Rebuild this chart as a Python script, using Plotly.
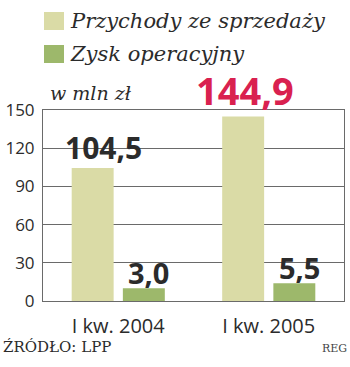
import plotly.graph_objects as go

categories = ["I kw. 2004", "I kw. 2005"]
series_names = ["Przychody ze sprzedaży", "Zysk operacyjny"]
revenue = [104.5, 144.9]
# operating profit bars as drawn in the picture (exaggerated for visibility)
profit_drawn = [10.0, 14.0]
revenue_labels = ["104,5", "144,9"]
profit_labels = ["3,0", "5,5"]
y_ticks = [0, 30, 60, 90, 120, 150]

LIGHT = "#dadba6"
DARK = "#9db86b"
RED = "#d9214f"
TXT = "#2b2b2b"
GRID = "#6a6a6a"
SERIF = "DejaVu Serif, Liberation Serif, serif"

fig = go.Figure()
fig.add_bar(x=categories, y=revenue, name=series_names[0], marker_color=LIGHT,
            marker_line_width=0, showlegend=False)
fig.add_bar(x=categories, y=profit_drawn, name=series_names[1], marker_color=DARK,
            marker_line_width=0, showlegend=False)

# value labels
label_style = [
    # (text, y, xshift, yshift, color, size)
    (revenue_labels[0], revenue[0], -30.5 + 15.5, -2, TXT, 30),
    (revenue_labels[1], revenue[1], -30.5 + 7, -2, RED, 38),
    (profit_labels[0], profit_drawn[0], 30.5, -6, TXT, 29),
    (profit_labels[1], profit_drawn[1], 30.5, -6, TXT, 29),
]
cats = [categories[0], categories[1], categories[0], categories[1]]
for c, (t, y, xs, ys, col, sz) in zip(cats, label_style):
    fig.add_annotation(x=c, y=y, xref="x", yref="y", text=t, showarrow=False,
                       xanchor="center", yanchor="bottom", xshift=xs, yshift=ys,
                       font=dict(family="Open Sans", size=sz, color=col, weight=700))

# legend (custom)
for i, (name, col) in enumerate(zip(series_names, [LIGHT, DARK])):
    top = 98 - i * 33
    fig.add_shape(type="rect", xref="paper", yref="paper", xsizemode="pixel",
                  ysizemode="pixel", xanchor=0, yanchor=1, x0=1, x1=21,
                  y0=top - 18, y1=top, fillcolor=col, line_width=0)
    fig.add_annotation(xref="paper", yref="paper", x=0, y=1, xshift=25,
                       yshift=top - 9, text=name, showarrow=False,
                       xanchor="left", yanchor="middle",
                       font=dict(family=SERIF, size=21, color=TXT, style="italic"))

fig.add_annotation(xref="paper", yref="paper", x=0, y=1, xshift=5, yshift=17,
                   text="w mln zł", showarrow=False, xanchor="left",
                   yanchor="middle",
                   font=dict(family=SERIF, size=19, color=TXT, style="italic"))
fig.add_annotation(xref="paper", yref="paper", x=0, y=0, xshift=-42, yshift=-46,
                   text="ŹRÓDŁO: LPP", showarrow=False, xanchor="left",
                   yanchor="middle",
                   font=dict(family="DejaVu Serif", size=15, color=TXT))
fig.add_annotation(xref="paper", yref="paper", x=1, y=0, xshift=5, yshift=-47,
                   text="REG", showarrow=False, xanchor="right",
                   yanchor="middle",
                   font=dict(family="DejaVu Serif", size=11, color="#444"))

fig.update_layout(
    width=350, height=367,
    margin=dict(l=42, r=5, t=110, b=66),
    paper_bgcolor="white", plot_bgcolor="white",
    barmode="group", bargap=0.32, bargroupgap=0.18,
)
fig.update_yaxes(range=[0, 150], tickvals=y_ticks, showgrid=True,
                 gridcolor=GRID, gridwidth=1, showline=True, mirror=True,
                 linecolor=GRID, linewidth=1, zeroline=False,
                 ticks="outside", ticklen=4, tickcolor="rgba(0,0,0,0)",
                 tickfont=dict(family="Open Sans", size=17, color=TXT))
fig.update_xaxes(showline=True, mirror=True, linecolor=GRID, linewidth=1,
                 ticks="outside", ticklen=7, tickcolor="rgba(0,0,0,0)",
                 tickfont=dict(family="Open Sans", size=20, color=TXT))

fig.write_html("out.html")
